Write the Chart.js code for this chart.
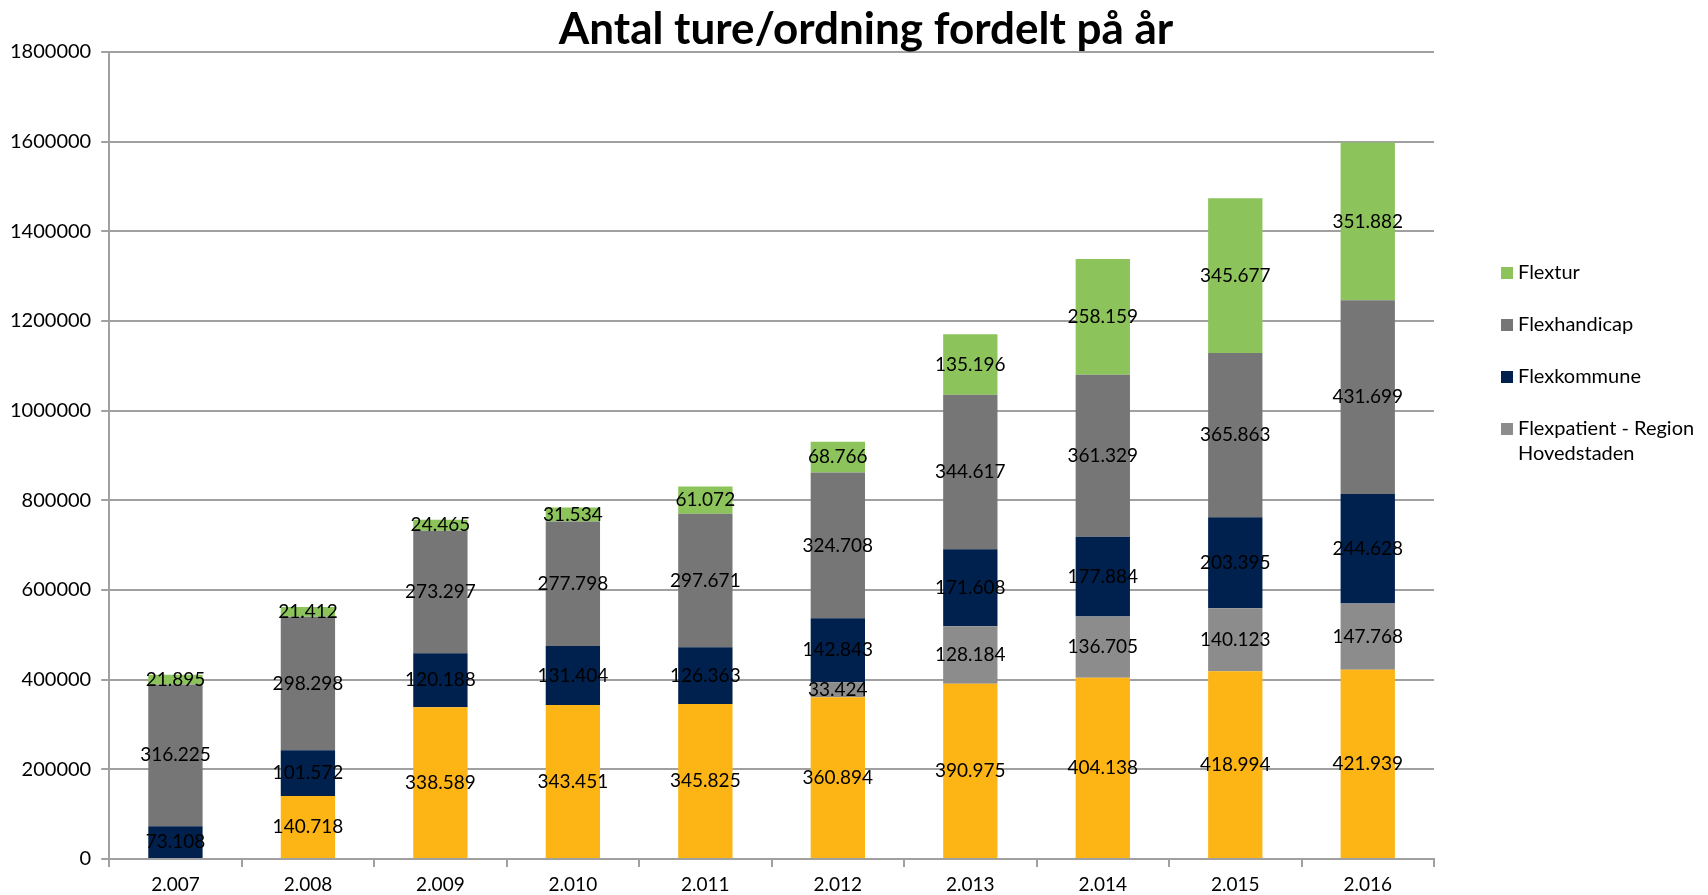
<!DOCTYPE html>
<html>
<head>
<meta charset="utf-8">
<title>Antal ture/ordning fordelt på år</title>
<script src="https://cdn.jsdelivr.net/npm/chart.js@4.4.1/dist/chart.umd.min.js"></script>
<style>
    html, body { margin: 0; padding: 0; background: #fff; }
    #wrap { width: 1708px; height: 895px; }
</style>
</head>
<body>
<div id="wrap"><canvas id="turCanvas" width="1708" height="895"></canvas></div>
<script>
var chartTitle = "Antal ture/ordning fordelt på år";
var years = ["2.007", "2.008", "2.009", "2.010", "2.011", "2.012", "2.013", "2.014", "2.015", "2.016"];
var yTicks = [0, 200000, 400000, 600000, 800000, 1000000, 1200000, 1400000, 1600000, 1800000];

// bottom series (yellow), not listed in the legend
var flexpatientSj = [0, 140718, 338589, 343451, 345825, 360894, 390975, 404138, 418994, 421939];
var flexpatientHov = [0, 0, 0, 0, 0, 33424, 128184, 136705, 140123, 147768];
var flexkommune = [73108, 101572, 120188, 131404, 126363, 142843, 171608, 177884, 203395, 244628];
var flexhandicap = [316225, 298298, 273297, 277798, 297671, 324708, 344617, 361329, 365863, 431699];
var flextur = [21895, 21412, 24465, 31534, 61072, 68766, 135196, 258159, 345677, 351882];

var fontName = "Lato, 'Open Sans', sans-serif";

function formatDk(v) {
    return String(v).replace(/\B(?=(\d{3})+(?!\d))/g, ".");
}

// title sits a bit right of the plot centre, like the original
var titlePlugin = {
    id: "titlePlugin",
    afterDraw: function (chart) {
        var ctx = chart.ctx;
        ctx.save();
        ctx.font = "bold 44px " + fontName;
        ctx.fillStyle = "#000";
        ctx.textAlign = "center";
        ctx.textBaseline = "middle";
        ctx.fillText(chartTitle, 866, 30);
        ctx.restore();
    }
};

// value labels centred in every segment
var segmentLabels = {
    id: "segmentLabels",
    afterDatasetsDraw: function (chart) {
        var ctx = chart.ctx;
        ctx.save();
        ctx.font = "19px " + fontName;
        ctx.fillStyle = "#000";
        ctx.textAlign = "center";
        ctx.textBaseline = "middle";
        chart.data.datasets.forEach(function (ds, i) {
            var meta = chart.getDatasetMeta(i);
            meta.data.forEach(function (bar, j) {
                var v = ds.data[j];
                if (!v) return;
                var mid = (bar.y + bar.base) / 2;
                ctx.fillText(formatDk(v), bar.x, mid);
            });
        });
        ctx.restore();
    }
};

// legend on the right, top to bottom in reverse stacking order
var sideLegend = {
    id: "sideLegend",
    afterDraw: function (chart) {
        var ctx = chart.ctx;
        var items = chart.data.datasets.filter(function (ds) { return ds.inLegend; }).reverse();
        var x = 1501, y = 273, step = 52;
        ctx.save();
        ctx.font = "20px " + fontName;
        ctx.textBaseline = "middle";
        ctx.textAlign = "left";
        items.forEach(function (ds) {
            ctx.fillStyle = ds.backgroundColor;
            ctx.fillRect(x, y - 6, 12, 12);
            ctx.fillStyle = "#000";
            var lines = ds.legendLines || [ds.label];
            lines.forEach(function (line, k) {
                ctx.fillText(line, x + 17, y + k * 25);
            });
            y += step;
        });
        ctx.restore();
    }
};

var datasets = [
    { label: "Flexpatient - Region Sjælland", data: flexpatientSj, backgroundColor: "#FDB515", inLegend: false },
    { label: "Flexpatient - Region Hovedstaden", data: flexpatientHov, backgroundColor: "#8C8C8C", inLegend: true,
      legendLines: ["Flexpatient - Region", "Hovedstaden"] },
    { label: "Flexkommune", data: flexkommune, backgroundColor: "#00204E", inLegend: true },
    { label: "Flexhandicap", data: flexhandicap, backgroundColor: "#767676", inLegend: true },
    { label: "Flextur", data: flextur, backgroundColor: "#8CC45B", inLegend: true }
];

var turChart = new Chart(document.getElementById("turCanvas"), {
    type: "bar",
    data: { labels: years, datasets: datasets },
    plugins: [segmentLabels, sideLegend, titlePlugin],
    options: {
        responsive: false,
        animation: false,
        layout: { padding: { top: 52, right: 274, bottom: 0, left: 0 } },
        datasets: { bar: { barPercentage: 0.41, categoryPercentage: 1 } },
        plugins: {
            legend: { display: false },
            tooltip: { enabled: false },
            title: { display: false }
        },
        scales: {
            x: {
                stacked: true,
                grid: { offset: true, drawOnChartArea: false, color: "#A0A0A0", lineWidth: 2, tickLength: 8 },
                border: { color: "#A0A0A0", width: 2 },
                ticks: { color: "#000", font: { family: fontName, size: 19, lineHeight: 1 }, padding: 8 },
                afterFit: function (axis) {
                    // labels hang low under the axis, keep the band thin
                    axis.height = 36;
                }
            },
            y: {
                stacked: true,
                min: yTicks[0],
                max: yTicks[yTicks.length - 1],
                afterBuildTicks: function (axis) {
                    axis.ticks = yTicks.map(function (v) { return { value: v }; });
                },
                grid: { color: "#A0A0A0", lineWidth: 2, tickLength: 8 },
                border: { color: "#A0A0A0", width: 2 },
                ticks: {
                    color: "#000",
                    font: { family: fontName, size: 20 },
                    padding: 10,
                    callback: function (v) { return String(v); }
                }
            }
        }
    }
});
</script>
</body>
</html>
